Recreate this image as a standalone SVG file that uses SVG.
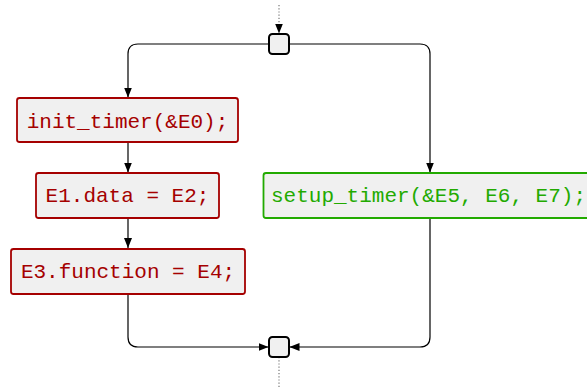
<svg xmlns="http://www.w3.org/2000/svg" width="587" height="389" viewBox="0 0 587 389">
  <style>
    .flow { fill: none; stroke: #000; stroke-width: 1.2; }
    .dots { fill: none; stroke: #777; stroke-width: 1.2; stroke-dasharray: 1.2 2; }
    .junction { fill: #f0f0f0; stroke: #000; stroke-width: 2; }
    .stmt { fill: #f0f0f0; stroke-width: 1.8; }
    .red .stmt { stroke: #a50000; }
    .green .stmt { stroke: #22aa00; }
    text { font-family: "Liberation Mono", "DejaVu Sans Mono", monospace; font-size: 21px; text-anchor: middle; }
    .red text { fill: #a50000; }
    .green text { fill: #22aa00; }
  </style>
  <defs>
    <marker id="arrow" viewBox="0 0 10 8" refX="10" refY="4" markerWidth="10" markerHeight="8" markerUnits="userSpaceOnUse" orient="auto">
      <path d="M0,0 L10,4 L0,8 Z" fill="#000"/>
    </marker>
  </defs>

  <g id="connectors">
    <path class="dots" d="M279,5 V24"/>
    <path fill="none" stroke="none" d="M279,20 V33.5" marker-end="url(#arrow)"/>
    <path class="flow" d="M269,44 H138 Q128,44 128,54 V97.5" marker-end="url(#arrow)"/>
    <path class="flow" d="M289,44 H420 Q430,44 430,54 V172.5" marker-end="url(#arrow)"/>
    <path class="flow" d="M128,142 V172.5" marker-end="url(#arrow)"/>
    <path class="flow" d="M128,218 V248" marker-end="url(#arrow)"/>
    <path class="flow" d="M128,294 V337 Q128,347 138,347 H268.5" marker-end="url(#arrow)"/>
    <path class="flow" d="M430,218 V337 Q430,347 420,347 H289.5" marker-end="url(#arrow)"/>
    <path class="dots" d="M279,357 V389"/>
  </g>

  <g id="fork">
    <rect class="junction" x="269" y="34" width="20" height="20" rx="3.5"/>
  </g>

  <g id="init_timer" class="red">
    <rect class="stmt" x="17" y="98" width="221" height="44" rx="2.5"/>
    <text x="127.5" y="127.5">init_timer(&amp;E0);</text>
  </g>

  <g id="set_data" class="red">
    <rect class="stmt" x="36" y="173" width="183" height="45" rx="2.5"/>
    <text x="127.5" y="202">E1.data = E2;</text>
  </g>

  <g id="set_function" class="red">
    <rect class="stmt" x="11" y="249" width="234" height="45" rx="2.5"/>
    <text x="128" y="277.5">E3.function = E4;</text>
  </g>

  <g id="setup_timer" class="green">
    <rect class="stmt" x="263.5" y="173" width="330" height="45" rx="2.5"/>
    <text x="428.5" y="202">setup_timer(&amp;E5, E6, E7);</text>
  </g>

  <g id="join">
    <rect class="junction" x="269" y="337" width="20" height="20" rx="3.5"/>
  </g>
</svg>
